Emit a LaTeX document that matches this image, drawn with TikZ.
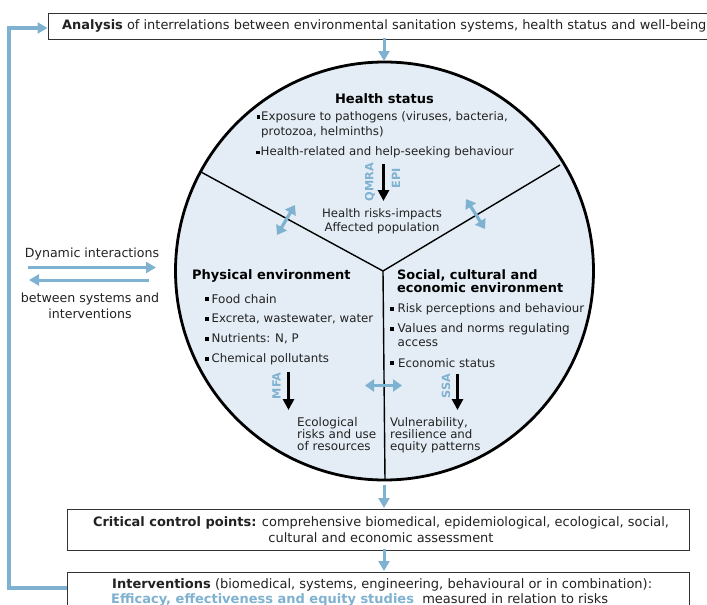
\documentclass[tikz,border=0pt]{standalone}
\usepackage{fontspec}
\setmainfont{DejaVu Sans}
\usetikzlibrary{arrows.meta}
\definecolor{flow}{HTML}{7FB1D1}
\definecolor{disc}{HTML}{E4EDF5}
\definecolor{ink}{HTML}{222222}
\tikzset{
 x=1pt,y=-1pt,
 bluearrow/.style={draw=flow,line width=3pt,-{Triangle[length=10pt,width=11pt]}},
 bluedouble/.style={draw=flow,line width=3.2pt,{Triangle[length=9pt,width=12pt]}-{Triangle[length=9pt,width=12pt]}},
 blackarrow/.style={draw=black,line width=3pt,-{Triangle[length=11pt,width=11pt]}},
 framebox/.style={draw=black!80,line width=1pt,fill=white},
 txt/.style={inner sep=0pt,font=\fontsize{11.8}{14}\selectfont,text=ink,align=left},
 ctr/.style={txt,align=center},
 head/.style={inner sep=0pt,font=\fontsize{13}{14}\selectfont\bfseries,text=black,align=left},
 side/.style={inner sep=0pt,font=\fontsize{11.3}{12}\selectfont\bfseries,text=flow,rotate=90},
 bul/.style={fill=black,inner sep=0pt,minimum size=3.8pt},
}
\begin{document}
\begin{tikzpicture}
\useasboundingbox (0,0) rectangle (707,605);
\clip (0,0) rectangle (707,605);
% disc
\node[circle,draw=black,line width=2.8pt,fill=disc,minimum size=418pt,inner sep=0pt] (disc) at (384.5,271) {};
\coordinate (hub) at (383,271);
\coordinate (rimL) at (201,172);
\coordinate (rimR) at (560,165);
\coordinate (rimB) at (385,480);
\draw[line width=1.4pt] (rimL)--(hub)--(rimR) (hub)--(rimB);
% boxes
\node[framebox,anchor=north west,minimum width=670pt,minimum height=26pt,inner sep=0pt] (analysis) at (47.5,12.5) {};
\node[txt,anchor=base west,font=\fontsize{12.95}{14}\selectfont] at (62,29) {\textbf{Analysis} of interrelations between environmental sanitation systems, health status and well-being};
\node[framebox,anchor=north west,minimum width=622pt,minimum height=41pt,inner sep=0pt] (ccp) at (66.5,508.5) {};
\node[ctr,font=\fontsize{12.95}{16}\selectfont] at (381,530) {\textbf{Critical control points:} comprehensive biomedical, epidemiological, ecological, social,\\cultural and economic assessment};
\node[framebox,anchor=north west,minimum width=622pt,minimum height=50pt,inner sep=0pt] (interv) at (66.5,571.5) {};
\node[txt,anchor=base west,font=\fontsize{13}{14}\selectfont] at (112,588) {\textbf{Interventions} (biomedical, systems, engineering, behavioural or in combination):};
\node[txt,anchor=base west,font=\fontsize{13}{14}\selectfont] at (111,603) {\textbf{\textcolor{flow}{Efficacy, effectiveness and equity studies}}\ \ measured in relation to risks};
% flow arrows
\coordinate (a1) at (384,38); \coordinate (d1) at (384,61);
\draw[bluearrow] (a1)--(d1);
\coordinate (d2) at (384,485); \coordinate (c2) at (384,508);
\draw[bluearrow] (d2)--(c2);
\coordinate (c3) at (384,549); \coordinate (i3) at (384,571);
\draw[bluearrow] (c3)--(i3);
\coordinate (fb1) at (9,588);
\coordinate (fb2) at (9,28);
\draw[bluearrow,line width=3.4pt] (interv.west |- fb1)--(fb1)--(fb2)--(analysis.west |- fb2);
% dynamic
\node[ctr,font=\fontsize{12.6}{16}\selectfont] (dyn) at (92,254) {Dynamic interactions};
\node[ctr,font=\fontsize{12.6}{16}\selectfont] (betw) at (90,305.5) {between systems and\\interventions};
\coordinate (r1) at (28,267.5); \coordinate (r2) at (156,267.5);
\draw[bluearrow] (r1)--(r2);
\coordinate (l1) at (149,280); \coordinate (l2) at (29,280);
\draw[bluearrow] (l1)--(l2);
% health
\node[head,anchor=center] at (384.5,99) {Health status};
\node[bul] at (258.5,117) {};
\node[txt,anchor=north west,font=\fontsize{11.8}{14.5}\selectfont] at (261,111.5) {Exposure to pathogens (viruses, bacteria,\\protozoa, helminths)};
\node[bul] at (258,152.5) {};
\node[txt,anchor=west] at (260.5,152.5) {Health-related and help-seeking behaviour};
\coordinate (h1) at (383.5,164); \coordinate (h2) at (383.5,201);
\draw[blackarrow] (h1)--(h2);
\node[side] at (370,182) {QMRA};
\node[side] at (396,178) {EPI};
\node[ctr,font=\fontsize{11.7}{14}\selectfont] at (382,221) {Health risks-impacts\\Affected population};
\coordinate (b1) at (277,235); \coordinate (b2) at (295,205);
\draw[bluedouble] (b1)--(b2);
\coordinate (b3) at (466,199); \coordinate (b4) at (485,229);
\draw[bluedouble] (b3)--(b4);
% physical
\node[head,anchor=west] at (192,275.5) {Physical environment};
\node[bul] at (207,299) {}; \node[txt,anchor=west,font=\fontsize{12}{14}\selectfont] at (211.5,299) {Food chain};
\node[bul] at (207,319) {}; \node[txt,anchor=west,font=\fontsize{11.8}{14}\selectfont] at (211.5,319) {Excreta, wastewater, water};
\node[bul] at (207,339) {}; \node[txt,anchor=west] at (211.5,339) {Nutrients: N, P};
\node[bul] at (207,359) {}; \node[txt,anchor=west] at (211.5,359) {Chemical pollutants};
\coordinate (m1) at (288.5,372); \coordinate (m2) at (288.5,410);
\draw[blackarrow] (m1)--(m2);
\node[side] at (276.5,386) {MFA};
\node[txt,anchor=north west,font=\fontsize{12}{12}\selectfont] at (297,417) {Ecological\\risks and use\\of resources};
% social
\node[head,anchor=north west,font=\fontsize{12.9}{13.8}\selectfont\bfseries] at (397,269) {Social, cultural and\\economic environment};
\node[bul] at (392,309) {}; \node[txt,anchor=west] at (397.5,309) {Risk perceptions and behaviour};
\node[bul] at (392,329) {}; \node[txt,anchor=north west,font=\fontsize{12}{13.5}\selectfont] at (397.5,323.5) {Values and norms regulating\\access};
\node[bul] at (392,363) {}; \node[txt,anchor=west] at (398,363) {Economic status};
\coordinate (s1) at (457.5,374); \coordinate (s2) at (457.5,410);
\draw[blackarrow] (s1)--(s2);
\node[side] at (446,386) {SSA};
\node[txt,anchor=north west,font=\fontsize{11.8}{12}\selectfont] at (390,417) {Vulnerability,\\resilience and\\equity patterns};
\coordinate (x1) at (365,385.5); \coordinate (x2) at (402,385.5);
\draw[bluedouble] (x1)--(x2);
\end{tikzpicture}
\end{document}
